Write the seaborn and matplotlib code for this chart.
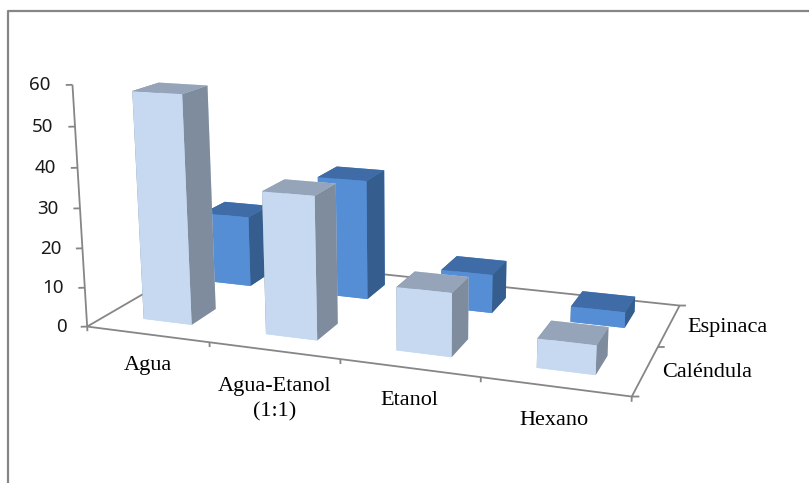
import numpy as np
import matplotlib
matplotlib.use('Agg')
import matplotlib.pyplot as plt
from matplotlib.lines import Line2D
from mpl_toolkits.mplot3d import proj3d
import seaborn as sns

# Extraction yield per solvent, for each plant
solvents = ['Agua', 'Agua-Etanol\n(1:1)', 'Etanol', 'Hexano']
plants = ['Caléndula', 'Espinaca']
calendula = [57.5, 35.5, 15.5, 7]
espinaca = [19, 31.5, 10, 4]
z_ticks = [0, 10, 20, 30, 40, 50, 60]

sns.set_theme(style='white')
AXIS_GREY = '#868686'
# front, side and top shades of each series
CAL_FRONT, CAL_SIDE, CAL_TOP = sns.color_palette(['#C6D9F1', '#7F8C9D', '#95A4B9'])
ESP_FRONT, ESP_SIDE, ESP_TOP = sns.color_palette(['#558ED5', '#355D8D', '#3F6CA6'])

fig = plt.figure(figsize=(8.09, 4.83), dpi=100)
ax = fig.add_axes([61.9 / 809, -43.3 / 483, 636 / 809, 636 / 483], projection='3d')
ax.set_xlim(0, 4)
ax.set_ylim(0, 2)
ax.set_zlim(0, 60)
ax.set_box_aspect((1, 0.481, 0.447))
ax.view_init(elev=14.242, azim=-69.665, roll=0.281)
ax.set_proj_type('persp', focal_length=0.409)
ax.set_xticks([])
ax.set_yticks([])
ax.set_zticks([])
ax.set_axis_off()
ax.computed_zorder = False
camera = ax.get_proj()


def axis_line(xs, ys, zs, lw=1.3):
    ax.plot(xs, ys, zs, color=AXIS_GREY, lw=lw, zorder=1, solid_capstyle='butt')


def label(x, y, z, text, **kwargs):
    # place the text at the screen position of a 3D point
    u, v, _ = proj3d.proj_transform(x, y, z, camera)
    ax.text2D(u, v, text, transform=ax.transData, **kwargs)


# floor outline and value axis
axis_line([0, 4, 4, 0, 0], [0, 0, 2, 2, 0], [0, 0, 0, 0, 0])
axis_line([0, 0], [0, 0], [0, 60])

# ticks
for z in z_ticks:
    axis_line([0, -0.042], [0, -0.0205], [z, z])
    label(-0.135, -0.066, z, str(z), ha='right', va='center', family='Noto Sans',
          fontsize=13.5, color='#1a1a1a')
for i in range(len(solvents) + 1):
    axis_line([i, i], [0, 0], [0, -1.2])
for j in range(len(plants) + 1):
    axis_line([4, 4.045], [j, j + 0.017], [0, 0])

# tick labels
for i, name in enumerate(solvents):
    drop = -6.6 if '\n' in name else -5.6
    label(i + 0.5, 0, drop, name, ha='center', va='top', family='Liberation Serif',
          fontsize=16, color='black', linespacing=1.4)
for j, name in enumerate(plants):
    label(4.11 + 0.02 * j, j + 0.5, 0, name, ha='left', va='center',
          family='Liberation Serif', fontsize=16, color='black')

# bars, back row first and left to right within a row
BAR_W, BAR_D, PAD_X, PAD_Y = 0.4, 0.4, 0.305, 0.3
order = 10
rows = [(1, espinaca, ESP_FRONT, ESP_SIDE, ESP_TOP), (0, calendula, CAL_FRONT, CAL_SIDE, CAL_TOP)]
for row, values, front, side, top in rows:
    for i, v in enumerate(values):
        faces = [front, top, front, front, side, side]
        ax.bar3d(i + PAD_X, row + PAD_Y + 0.03 * row, 0, BAR_W, BAR_D, v, color=faces,
                 shade=False, zorder=order, linewidth=0)
        order += 1

# chart frame
fig.add_artist(Line2D([8 / 809, 8 / 809, 1], [0, 1 - 11 / 483, 1 - 11 / 483],
                      color=AXIS_GREY, lw=1.6, transform=fig.transFigure))

fig.savefig('out.png', dpi=100)
